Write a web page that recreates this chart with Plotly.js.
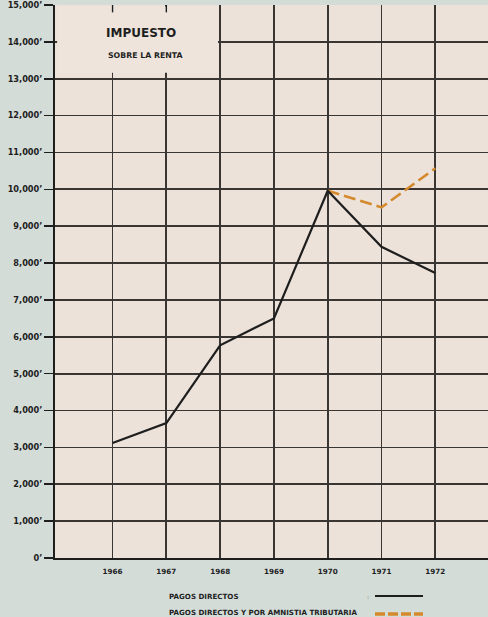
<!DOCTYPE html>
<html>
<head>
<meta charset="utf-8">
<script src="https://cdn.plot.ly/plotly-3.0.1.min.js"></script>
<style>
  html, body { margin: 0; padding: 0; background: #d4dcd8; }
  #chart { width: 488px; height: 617px; }
</style>
</head>
<body>
<div id="chart"></div>
<script>
// ---- data ----
const years = [1966, 1967, 1968, 1969, 1970, 1971, 1972];
const pagosDirectos = [3120, 3660, 5770, 6500, 9960, 8440, 7730];
const amnistiaYears = [1970, 1971, 1972];
const pagosAmnistia = [9960, 9510, 10570];
const seriesNames = ["PAGOS DIRECTOS", "PAGOS DIRECTOS Y POR AMNISTIA TRIBUTARIA"];
const yTickVals = [0, 1000, 2000, 3000, 4000, 5000, 6000, 7000, 8000, 9000, 10000, 11000, 12000, 13000, 14000, 15000];
const yTickText = ["0’", "1,000’", "2,000’", "3,000’", "4,000’", "5,000’", "6,000’", "7,000’", "8,000’", "9,000’", "10,000’", "11,000’", "12,000’", "13,000’", "14,000’", "15,000’"];
const xTickText = ["1966", "1967", "1968", "1969", "1970", "1971", "1972"];
const titleMain = "IMPUESTO";
const titleSub = "SOBRE LA RENTA";

const ink = "#1e1e1e";
const orange = "#d4892c";
const fontFam = "'DejaVu Sans', 'Liberation Sans', sans-serif";

const traces = [
  {
    x: amnistiaYears, y: pagosAmnistia, name: seriesNames[1],
    type: "scatter", mode: "lines",
    line: { color: orange, width: 2.6, dash: "12px,5px" },
    showlegend: false
  },
  {
    x: years, y: pagosDirectos, name: seriesNames[0],
    type: "scatter", mode: "lines",
    line: { color: ink, width: 2.2 },
    showlegend: false
  }
];

const layout = {
  width: 488, height: 617,
  margin: { l: 55, r: 0, t: 5, b: 59 },
  paper_bgcolor: "#d4dcd8",
  plot_bgcolor: "#ece2da",
  showlegend: false,
  font: { family: fontFam, color: ink },
  xaxis: {
    range: [1964.93, 1972.98],
    tickvals: years, ticktext: xTickText,
    showgrid: true, gridcolor: "#383533", gridwidth: 1.7,
    showline: true, linecolor: ink, linewidth: 2,
    ticks: "", zeroline: false, ticklabelstandoff: 5,
    tickfont: { size: 7.2, weight: "bold", family: fontFam, color: ink },
    fixedrange: true
  },
  yaxis: {
    range: [0, 15000],
    tickvals: yTickVals, ticktext: yTickText,
    showgrid: true, gridcolor: "#383533", gridwidth: 1.7,
    showline: true, linecolor: ink, linewidth: 2,
    ticks: "outside", ticklen: 9, tickwidth: 1.6, tickcolor: ink,
    zeroline: false, ticklabeloverflow: "allow",
    tickfont: { size: 8.2, weight: "bold", family: fontFam, color: ink },
    fixedrange: true
  },
  shapes: [
    // title box covering the grid
    { type: "rect", xref: "x", yref: "y", x0: 1964.97, x1: 1967.96, y0: 13160, y1: 14960,
      fillcolor: "#eee4dc", line: { width: 0 }, layer: "above" },
    // small ticks at the top of the hidden grid lines
    { type: "line", xref: "x", yref: "y", x0: 1966, x1: 1966, y0: 14800, y1: 15000,
      line: { color: ink, width: 1.4 }, layer: "above" },
    { type: "line", xref: "x", yref: "y", x0: 1967, x1: 1967, y0: 14800, y1: 15000,
      line: { color: ink, width: 1.4 }, layer: "above" },
    // legend samples
    { type: "line", xref: "paper", yref: "paper", x0: 320 / 433, x1: 368 / 433,
      y0: -38 / 553, y1: -38 / 553, line: { color: ink, width: 2.2 } },
    { type: "line", xref: "paper", yref: "paper", x0: 320 / 433, x1: 368 / 433,
      y0: -56 / 553, y1: -56 / 553, line: { color: orange, width: 3.5, dash: "10px,3px" } }
  ],
  annotations: [
    { text: titleMain, xref: "x", yref: "y", x: 1966.53, y: 14240, showarrow: false,
      font: { size: 12, weight: "bold", family: fontFam, color: ink } },
    { text: titleSub, xref: "x", yref: "y", x: 1966.62, y: 13640, showarrow: false,
      font: { size: 7.8, weight: "bold", family: fontFam, color: ink } },
    { text: seriesNames[0], xref: "paper", yref: "paper", x: 112 / 433, y: -38 / 553,
      xanchor: "left", yanchor: "middle", showarrow: false,
      font: { size: 7.1, weight: "bold", family: fontFam, color: ink } },
    { text: seriesNames[1], xref: "paper", yref: "paper", x: 112 / 433, y: -54 / 553,
      xanchor: "left", yanchor: "middle", showarrow: false,
      font: { size: 7.1, weight: "bold", family: fontFam, color: ink } },
    { text: ":", xref: "paper", yref: "paper", x: 313 / 433, y: -38 / 553,
      xanchor: "center", yanchor: "middle", showarrow: false,
      font: { size: 6, family: fontFam, color: "#666" } }
  ]
};

Plotly.newPlot("chart", traces, layout, { displayModeBar: false, staticPlot: true });
</script>
</body>
</html>
